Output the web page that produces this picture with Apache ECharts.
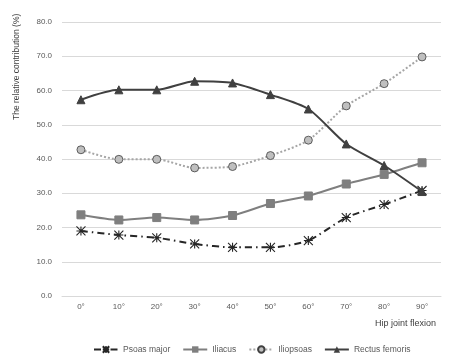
<!DOCTYPE html>
<html><head><meta charset="utf-8">
<script src="https://cdn.jsdelivr.net/npm/echarts@6/dist/echarts.min.js"></script>
<style>html,body{margin:0;padding:0;background:#fff;}#c{width:452px;height:359px;}</style>
</head><body><div id="c"></div>
<script>
const categories = ['0°','10°','20°','30°','40°','50°','60°','70°','80°','90°'];
const psoasMajor = [19.0, 17.8, 17.0, 15.2, 14.2, 14.2, 16.2, 22.9, 26.7, 30.8];
const iliacus = [23.7, 22.2, 22.9, 22.2, 23.5, 27.0, 29.2, 32.7, 35.5, 38.9];
const iliopsoas = [42.7, 39.9, 39.9, 37.4, 37.8, 41.0, 45.5, 55.5, 62.0, 69.8];
const rectusFemoris = [57.3, 60.2, 60.2, 62.7, 62.2, 58.8, 54.6, 44.4, 38.1, 30.5];
const yTicks = [0, 10, 20, 30, 40, 50, 60, 70, 80];

const font = 'Liberation Sans, Arial, sans-serif';
const chart = echarts.init(document.getElementById('c'));
chart.setOption({
  animation: false,
  backgroundColor: '#fff',
  grid: {left: 62, right: 11, top: 22, bottom: 63},
  legend: {
    top: 340, left: 88, itemWidth: 24, itemHeight: 8, itemGap: 12,
    textStyle: {fontFamily: font, fontSize: 8.5, color: '#595959'},
    data: ['Psoas major', 'Iliacus', 'Iliopsoas', 'Rectus femoris']
  },
  xAxis: {
    type: 'category', data: categories, boundaryGap: true,
    axisLine: {lineStyle: {color: '#d9d9d9'}}, axisTick: {show: false},
    axisLabel: {fontFamily: font, fontSize: 8, color: '#595959', margin: 7}
  },
  yAxis: {
    type: 'value', min: yTicks[0], max: yTicks[yTicks.length - 1], interval: 10,
    axisLine: {show: false}, axisTick: {show: false},
    splitLine: {lineStyle: {color: '#d9d9d9', width: 1}},
    axisLabel: {fontFamily: font, fontSize: 8, color: '#595959', margin: 10,
      formatter: v => v.toFixed(1)}
  },
  graphic: [
    {type: 'text', x: 12, y: 120, rotation: Math.PI / 2,
      style: {text: 'The relative contribution (%)', font: '8.5px ' + font, fill: '#404040'}},
    {type: 'text', right: 16, top: 319,
      style: {text: 'Hip joint flexion', font: '9px ' + font, fill: '#404040'}}
  ],
  series: [
    {name: 'Psoas major', type: 'line', data: psoasMajor, smooth: 0.25,
      symbol: 'path://M0,0L10,10M10,0L0,10M5,0L5,10M0,5L10,5', symbolSize: 9,
      itemStyle: {color: 'rgba(0,0,0,0)', borderColor: '#262626', borderWidth: 1.1},
      lineStyle: {color: '#262626', width: 2, type: [7, 4, 1.5, 4]}, z: 4},
    {name: 'Iliacus', type: 'line', data: iliacus, smooth: 0.25,
      symbol: 'rect', symbolSize: 8,
      itemStyle: {color: '#7f7f7f', borderColor: '#7f7f7f'},
      lineStyle: {color: '#7f7f7f', width: 2}, z: 3},
    {name: 'Iliopsoas', type: 'line', data: iliopsoas, smooth: 0.25,
      symbol: 'circle', symbolSize: 8,
      itemStyle: {color: '#bfbfbf', borderColor: '#404040', borderWidth: 0.8},
      lineStyle: {color: '#a6a6a6', width: 2, type: [2, 2]}, z: 2},
    {name: 'Rectus femoris', type: 'line', data: rectusFemoris, smooth: 0.25,
      symbol: 'triangle', symbolSize: 8,
      itemStyle: {color: '#404040', borderColor: '#404040'},
      lineStyle: {color: '#404040', width: 2}, z: 5}
  ]
});
</script></body></html>
